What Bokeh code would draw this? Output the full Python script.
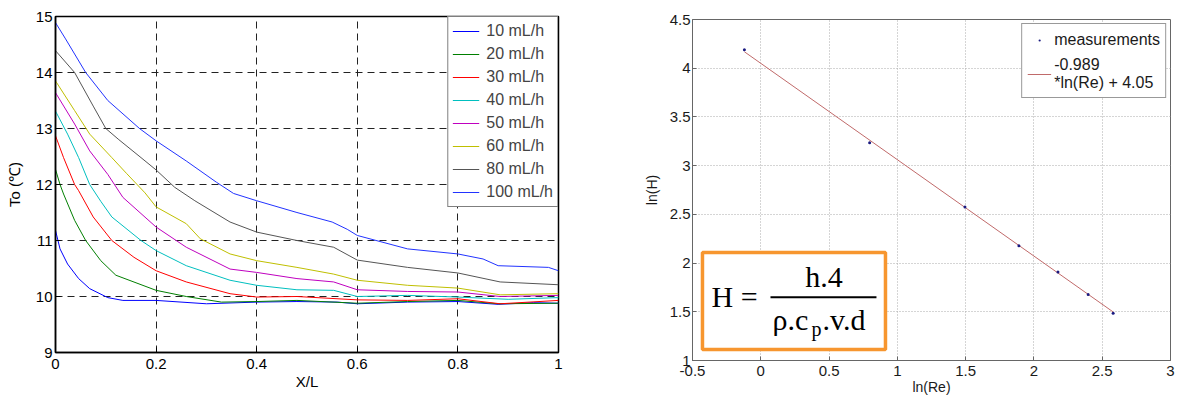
from bokeh.plotting import figure
from bokeh.layouts import row, column
from bokeh.models import (FixedTicker, Legend, LegendItem, BoxAnnotation, Label,
                          Range1d)
from bokeh.embed import file_html
from bokeh.resources import INLINE

# ---------------- data: left chart (outlet temperature vs X/L) ----------------
flow_labels = ["10 mL/h", "20 mL/h", "30 mL/h", "40 mL/h",
               "50 mL/h", "60 mL/h", "80 mL/h", "100 mL/h"]
flow_colors = ["#0000FF", "#007F00", "#FF0000", "#00BFBF",
               "#BF00BF", "#BFBF00", "#555555", "#2233FF"]

x10 = [0, 0.009, 0.024, 0.046, 0.068, 0.104, 0.134, 0.2, 0.3, 0.4, 0.48, 0.56, 0.6, 0.7, 0.8, 0.88, 0.95, 1.0]
y10 = [11.18, 10.85, 10.58, 10.32, 10.14, 9.98, 9.93, 9.93, 9.87, 9.9, 9.91, 9.9, 9.87, 9.9, 9.91, 9.86, 9.89, 9.88]

x20 = [0, 0.009, 0.016, 0.038, 0.06, 0.09, 0.12, 0.2, 0.26, 0.33, 0.4, 0.48, 0.6, 0.7, 0.8, 0.88, 1.0]
y20 = [12.27, 12.0, 11.83, 11.36, 11.0, 10.64, 10.38, 10.11, 10.0, 9.9, 9.91, 9.93, 9.88, 9.91, 9.93, 9.87, 9.88]

x30 = [0, 0.016, 0.038, 0.046, 0.075, 0.112, 0.156, 0.2, 0.26, 0.347, 0.4, 0.48, 0.6, 0.7, 0.8, 0.884, 1.0]
y30 = [12.87, 12.48, 12.0, 11.89, 11.42, 11.0, 10.7, 10.46, 10.26, 10.05, 9.99, 10.0, 9.94, 9.93, 9.96, 9.87, 9.93]

x40 = [0, 0.024, 0.046, 0.068, 0.09, 0.112, 0.17, 0.2, 0.26, 0.347, 0.4, 0.48, 0.553, 0.6, 0.7, 0.8, 0.9, 1.0]
y40 = [13.31, 12.9, 12.48, 12.0, 11.7, 11.42, 11.0, 10.82, 10.55, 10.29, 10.2, 10.12, 10.11, 10.0, 10.02, 9.99, 9.95, 9.98]

x50 = [0, 0.038, 0.068, 0.104, 0.134, 0.2, 0.26, 0.347, 0.4, 0.48, 0.553, 0.6, 0.7, 0.8, 0.884, 1.0]
y50 = [13.64, 13.08, 12.6, 12.18, 11.77, 11.24, 10.88, 10.49, 10.43, 10.32, 10.26, 10.12, 10.09, 10.08, 10.0, 10.02]

x60 = [0, 0.038, 0.068, 0.112, 0.141, 0.178, 0.2, 0.26, 0.288, 0.347, 0.4, 0.48, 0.553, 0.6, 0.7, 0.8, 0.884, 1.0]
y60 = [13.85, 13.32, 12.9, 12.48, 12.2, 11.85, 11.6, 11.3, 11.03, 10.76, 10.64, 10.52, 10.4, 10.29, 10.2, 10.15, 10.03, 10.05]

x80 = [0, 0.038, 0.075, 0.10, 0.126, 0.17, 0.2, 0.237, 0.277, 0.347, 0.4, 0.48, 0.553, 0.6, 0.7, 0.8, 0.884, 1.0]
y80 = [14.39, 14.0, 13.4, 13.0, 12.8, 12.48, 12.26, 11.95, 11.71, 11.33, 11.15, 11.0, 10.88, 10.65, 10.52, 10.42, 10.26, 10.21]

x100 = [0, 0.02, 0.06, 0.104, 0.167, 0.2, 0.26, 0.32, 0.354, 0.4, 0.48, 0.55, 0.58, 0.6, 0.7, 0.8, 0.85, 0.88, 0.98, 1.0]
y100 = [14.89, 14.6, 14.0, 13.5, 13.0, 12.78, 12.42, 12.04, 11.84, 11.71, 11.5, 11.33, 11.2, 11.09, 10.85, 10.76, 10.67, 10.55, 10.52, 10.46]

series_x = [x10, x20, x30, x40, x50, x60, x80, x100]
series_y = [y10, y20, y30, y40, y50, y60, y80, y100]

left_xticks = [0, 0.2, 0.4, 0.6, 0.8, 1]
left_xtick_labels = ["0", "0.2", "0.4", "0.6", "0.8", "1"]
left_yticks = [9, 10, 11, 12, 13, 14, 15]

# ---------------- data: right chart (ln(H) vs ln(Re)) ----------------
ln_re = [-0.12, 0.797, 1.495, 1.89, 2.176, 2.397, 2.58]
ln_h = [4.19, 3.234, 2.575, 2.178, 1.908, 1.678, 1.486]
fit_slope = -0.989
fit_intercept = 4.05
fit_label = "-0.989\n*ln(Re) + 4.05"

right_xticks = [-0.5, 0, 0.5, 1, 1.5, 2, 2.5, 3]
right_xtick_labels = ["-0.5", "0", "0.5", "1", "1.5", "2", "2.5", "3"]
right_yticks = [1, 1.5, 2, 2.5, 3, 3.5, 4, 4.5]
right_ytick_labels = ["1", "1.5", "2", "2.5", "3", "3.5", "4", "4.5"]

SANS = "Liberation Sans"
SERIF = "Liberation Serif"

# ================= left figure =================
p1 = figure(width=600, height=398, x_range=Range1d(0, 1), y_range=Range1d(9, 15),
            output_backend="svg", toolbar_location=None,
            min_border_left=55, min_border_right=42, min_border_top=16, min_border_bottom=46)
p1.background_fill_color = "white"
p1.border_fill_color = "white"
p1.outline_line_color = "black"
p1.outline_line_width = 1.5

items = []
for xs, ys, lab, col in zip(series_x, series_y, flow_labels, flow_colors):
    r = p1.line(xs, ys, line_color=col, line_width=1)
    items.append(LegendItem(label=lab, renderers=[r]))

p1.xaxis.ticker = FixedTicker(ticks=left_xticks)
p1.xaxis.major_label_overrides = {t: s for t, s in zip(left_xticks, left_xtick_labels)}
p1.yaxis.ticker = FixedTicker(ticks=left_yticks)
for ax in (p1.xaxis[0], p1.yaxis[0]):
    ax.axis_line_color = "black"
    ax.axis_line_width = 1.5
    ax.major_tick_in = 5
    ax.major_tick_out = 0
    ax.major_tick_line_color = "black"
    ax.minor_tick_line_color = None
    ax.major_label_text_font = SANS
    ax.major_label_text_font_size = "15px"
    ax.major_label_text_color = "black"
    ax.axis_label_text_font = SANS
    ax.axis_label_text_font_size = "15px"
    ax.axis_label_text_font_style = "normal"
    ax.axis_label_text_color = "black"
p1.xaxis.axis_label = "X/L"
p1.yaxis.axis_label = "To (℃)"
p1.xaxis.major_label_standoff = 6
p1.xaxis.axis_label_standoff = 1
p1.yaxis.major_label_standoff = 3
p1.yaxis.axis_label_standoff = 10

p1.xgrid.ticker = FixedTicker(ticks=left_xticks)
p1.ygrid.ticker = FixedTicker(ticks=left_yticks)
p1.grid.grid_line_color = "#222222"
p1.grid.grid_line_width = 1
p1.grid.grid_line_dash = "7 5"

leg1 = Legend(items=items, location="top_right", margin=0, padding=4, spacing=3,
              label_height=20, glyph_height=20, glyph_width=27, label_standoff=7,
              label_text_font=SANS, label_text_font_size="16px",
              border_line_color="black", border_line_width=1.5,
              background_fill_color="white", background_fill_alpha=1)
p1.add_layout(leg1)

# ================= right figure =================
p2 = figure(width=579, height=398, x_range=Range1d(-0.5, 3), y_range=Range1d(1, 4.5),
            output_backend="svg", toolbar_location=None,
            min_border_left=92, min_border_right=9, min_border_top=19, min_border_bottom=38)
p2.background_fill_color = "white"
p2.border_fill_color = "white"
p2.outline_line_color = "#666666"
p2.outline_line_width = 1

p2.xgrid.ticker = FixedTicker(ticks=right_xticks)
p2.ygrid.ticker = FixedTicker(ticks=right_yticks)
p2.grid.grid_line_color = "#aaaaaa"
p2.grid.grid_line_dash = "1 2"
p2.grid.grid_line_width = 1

# formula box (white fill hides the grid)
box = BoxAnnotation(left=-0.427, right=0.913, bottom=1.112, top=2.108,
                    fill_color="white", fill_alpha=1, line_color="#F7962F",
                    line_alpha=1, line_width=3.5, level="underlay")
p2.add_layout(box)

fit_x = [min(ln_re), max(ln_re)]
fit_y = [fit_slope * v + fit_intercept for v in fit_x]
fit = p2.line(fit_x, fit_y, line_color="#C06A6A", line_width=1)
pts = p2.scatter(ln_re, ln_h, size=12, marker="dot", fill_color="#1a1a80",
                 line_color="#1a1a80")

# fraction bar of the formula
p2.segment(x0=[0.071], y0=[1.649], x1=[0.847], y1=[1.649], line_color="black", line_width=2)

formula_parts = [
    ("H =", -0.361, 1.656, "30px", "left"),
    ("h.4", 0.463, 1.861, "30px", "center"),
    ("ρ.c", 0.086, 1.42, "30px", "left"),
    ("p", 0.371, 1.327, "20px", "left"),
    (".v.d", 0.452, 1.42, "30px", "left"),
]
for txt, fx, fy, fs, al in formula_parts:
    p2.add_layout(Label(x=fx, y=fy, text=txt, text_font=SERIF, text_font_size=fs,
                        text_baseline="alphabetic", text_align=al, text_color="black"))

p2.xaxis.ticker = FixedTicker(ticks=right_xticks)
p2.xaxis.major_label_overrides = {t: s for t, s in zip(right_xticks, right_xtick_labels)}
p2.yaxis.ticker = FixedTicker(ticks=right_yticks)
p2.yaxis.major_label_overrides = {t: s for t, s in zip(right_yticks, right_ytick_labels)}
for ax in (p2.xaxis[0], p2.yaxis[0]):
    ax.axis_line_color = "#666666"
    ax.axis_line_width = 1
    ax.major_tick_in = 4
    ax.major_tick_out = 0
    ax.major_tick_line_color = "#666666"
    ax.minor_tick_line_color = None
    ax.major_label_text_font = SANS
    ax.major_label_text_font_size = "15px"
    ax.major_label_text_color = "#1a1a1a"
    ax.axis_label_text_font = SANS
    ax.axis_label_text_font_size = "14px"
    ax.axis_label_text_font_style = "normal"
    ax.axis_label_text_color = "#1a1a1a"
p2.xaxis.axis_label = "ln(Re)"
p2.yaxis.axis_label = "ln(H)"
p2.xaxis.major_label_standoff = 5
p2.xaxis.axis_label_standoff = 0
p2.yaxis.major_label_standoff = 2
p2.yaxis.axis_label_standoff = 7

leg2 = Legend(items=[LegendItem(label="measurements", renderers=[pts]),
                     LegendItem(label=fit_label, renderers=[fit])],
              location="top_right", margin=4, padding=5, spacing=5,
              label_height=22, glyph_height=22, glyph_width=24, label_standoff=3,
              label_text_font=SANS, label_text_font_size="16px",
              label_text_color="#1a1a1a", label_text_line_height=1.0,
              border_line_color="#333333", border_line_width=1,
              background_fill_color="white", background_fill_alpha=1)
p2.add_layout(leg2)

layout = row(column(p1), column(p2))
open("out.html", "w").write(file_html(layout, INLINE))
